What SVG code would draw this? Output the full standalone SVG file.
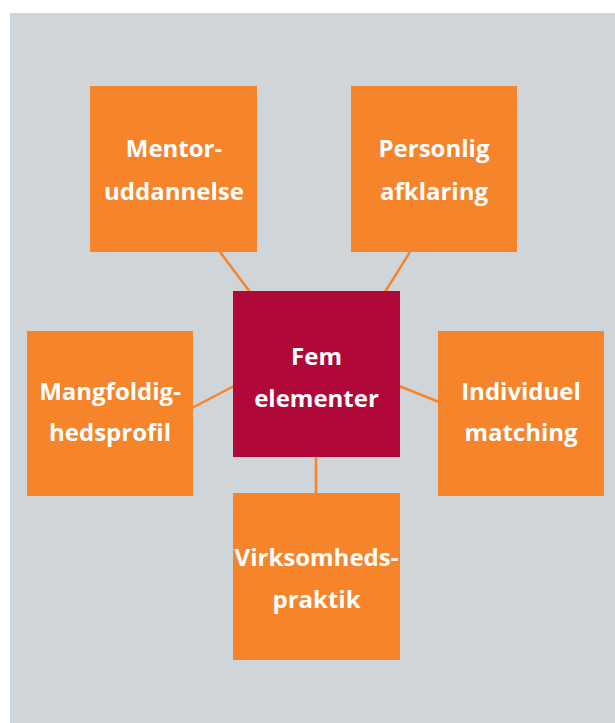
<svg xmlns="http://www.w3.org/2000/svg" width="615" height="723" viewBox="0 0 615 723">
<style>
.box{fill:#F5842A}
.core{fill:#B00838}
.lbl{font-family:"Open Sans","Liberation Sans",sans-serif;font-weight:bold;font-size:24px;fill:#FFFFFF;text-anchor:middle}
.con{stroke:#F5842A;stroke-width:2.5;fill:none}
</style>
<rect x="0" y="0" width="615" height="723" fill="#FFFFFF"/>
<rect x="10" y="13" width="605" height="710" fill="#D0D5D9"/>
<g id="connectors">
<line class="con" x1="220" y1="252" x2="250" y2="292"/>
<line class="con" x1="410" y1="252" x2="385" y2="292"/>
<line class="con" x1="192" y1="408" x2="234" y2="386"/>
<line class="con" x1="399" y1="386" x2="439" y2="402"/>
<line class="con" x1="316" y1="456" x2="316" y2="494"/>
</g>
<g id="mentor">
<rect class="box" x="90" y="86" width="167" height="166"/>
<text class="lbl" x="174" y="157">Mentor-</text>
<text class="lbl" x="174" y="200">uddannelse</text>
</g>
<g id="personlig">
<rect class="box" x="351" y="86" width="166" height="166"/>
<text class="lbl" x="434" y="157">Personlig</text>
<text class="lbl" x="434" y="200">afklaring</text>
</g>
<g id="fem">
<rect class="core" x="233" y="291" width="167" height="166"/>
<text class="lbl" x="316.5" y="365">Fem</text>
<text class="lbl" x="316.5" y="407">elementer</text>
</g>
<g id="mangfoldighed">
<rect class="box" x="27" y="331" width="166" height="165"/>
<text class="lbl" x="110" y="400">Mangfoldig-</text>
<text class="lbl" x="110" y="441">hedsprofil</text>
</g>
<g id="individuel">
<rect class="box" x="438" y="331" width="166" height="165"/>
<text class="lbl" x="521" y="400">Individuel</text>
<text class="lbl" x="521" y="441">matching</text>
</g>
<g id="virksomhed">
<rect class="box" x="233" y="493" width="167" height="167"/>
<text class="lbl" x="316.5" y="566">Virksomheds-</text>
<text class="lbl" x="316.5" y="608">praktik</text>
</g>
</svg>
